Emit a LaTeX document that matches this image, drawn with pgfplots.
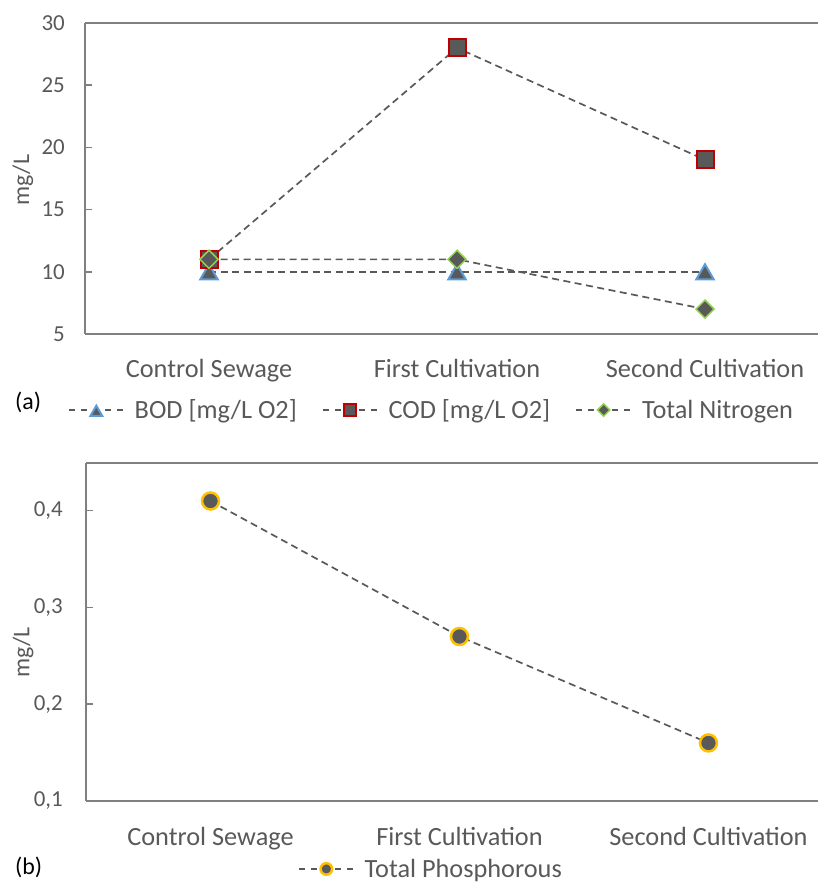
\documentclass[border=0pt]{standalone}
\usepackage{pgfplots}
\pgfplotsset{compat=1.18}
\usepackage{fontspec}
\setmainfont{Carlito}
\definecolor{txt}{HTML}{595959}
\definecolor{axl}{HTML}{808080}
\definecolor{ln}{HTML}{595959}
\definecolor{mk}{HTML}{595959}
\definecolor{codred}{HTML}{C00000}
\definecolor{bodblue}{HTML}{5B9BD5}
\definecolor{tngreen}{HTML}{92D050}
\definecolor{tpyel}{HTML}{FFC000}

\pgfplotsset{
 myaxis/.style={
  scale only axis,
  clip=false,
  axis x line*=bottom, axis y line*=left,
  axis line style={axl, line width=1.5bp},
  xtick={0,1,2},
  xticklabels={Control Sewage,First Cultivation,Second Cultivation},
  x tick label style={font=\fontsize{26.4}{30}\selectfont, text=txt, inner sep=0pt, anchor=north},
  y tick label style={font=\fontsize{23}{26}\selectfont, text=txt, inner sep=0pt, anchor=east},
  major x tick style={draw=none},
  major y tick style={axl, line width=1.5bp},
  tick align=inside, major tick length=7bp,
  /pgf/number format/assume math mode=true,
  ylabel={mg/L},
  ylabel style={font=\fontsize{24}{28}\selectfont, text=txt},
  legend style={draw=none, fill=none, inner sep=0pt, outer sep=0pt,
    font=\fontsize{26.4}{30}\selectfont, text=txt, legend columns=-1,
    nodes={inner sep=0pt},
    /tikz/every odd column/.append style={column sep=10bp},
    /tikz/every even column/.append style={column sep=25bp},
    anchor=west},
  legend image code/.code={\draw[mark repeat=2,mark phase=2,dash pattern=on 6bp off 6bp,every mark/.append style={scale=0.68}]
     plot coordinates {(0bp,0bp) (27.5bp,0bp) (55bp,0bp)};},
 },
 ser/.style={ln, line width=1.7bp, dash pattern=on 7bp off 4.5bp},
}

\begin{document}
\begin{tikzpicture}
\path[use as bounding box] (0bp,0bp) rectangle (818bp,883bp);

% ---------- panel (a) ----------
\begin{axis}[myaxis,
  at={(85bp,549bp)}, anchor=south west,
  width=733bp, height=311bp,
  xmin=-0.5, xmax=2.4556, ymin=5, ymax=30,
  ytick={5,10,15,20,25,30},
  x tick label style={yshift=-25bp},
  y tick label style={xshift=-20bp},
  ylabel style={at={(axis description cs:-0.0846,0.495)}, anchor=center},
  legend style={at={(axis description cs:-0.0232,-0.2444)}},
]
\addplot[ser, mark=triangle*, mark size=10bp,
  mark options={solid, yshift=-2.5bp, fill=mk, draw=bodblue, line width=2bp}]
  coordinates {(0,10) (1,10) (2,10)};
\addlegendentry{BOD [mg/L O2]}
\addplot[ser, mark=square*, mark size=8.5bp,
  mark options={solid, fill=mk, draw=codred, line width=2bp}]
  coordinates {(0,11) (1,28) (2,19)};
\addlegendentry{COD [mg/L O2]}
\addplot[ser, mark=square*, mark size=6.4bp,
  mark options={solid, rotate=45, fill=mk, draw=tngreen, line width=1.5bp}]
  coordinates {(0,11) (1,11) (2,7)};
\addlegendentry{Total Nitrogen}
\draw[axl, line width=1.5bp] (rel axis cs:0,1) -- (rel axis cs:1,1);
\end{axis}

% ---------- panel (b) ----------
\begin{axis}[myaxis,
  at={(86bp,82bp)}, anchor=south west,
  width=732bp, height=338bp,
  xmin=-0.5, xmax=2.44, ymin=0.1, ymax=0.4493,
  ytick={0.1,0.2,0.3,0.4},
  /pgf/number format/fixed,
  /pgf/number format/fixed zerofill,
  /pgf/number format/precision=1,
  /pgf/number format/use comma,
  x tick label style={yshift=-26bp},
  y tick label style={xshift=-23bp},
  ylabel style={at={(axis description cs:-0.086,0.44)}, anchor=center},
  legend style={at={(axis description cs:0.2896,-0.201)}},
]
\addplot[ser, mark=*, mark size=8.5bp,
  mark options={solid, fill=mk, draw=tpyel, line width=2.5bp}]
  coordinates {(0,0.41) (1,0.27) (2,0.16)};
\addlegendentry{Total Phosphorous}
\draw[axl, line width=1.5bp] (rel axis cs:0,1) -- (rel axis cs:1,1);
\end{axis}

\node[anchor=base west, inner sep=0pt, font=\fontsize{24}{28}\selectfont] at (15bp,473bp) {(a)};
\node[anchor=base west, inner sep=0pt, font=\fontsize{24}{28}\selectfont] at (15bp,9bp) {(b)};
\end{tikzpicture}
\end{document}
